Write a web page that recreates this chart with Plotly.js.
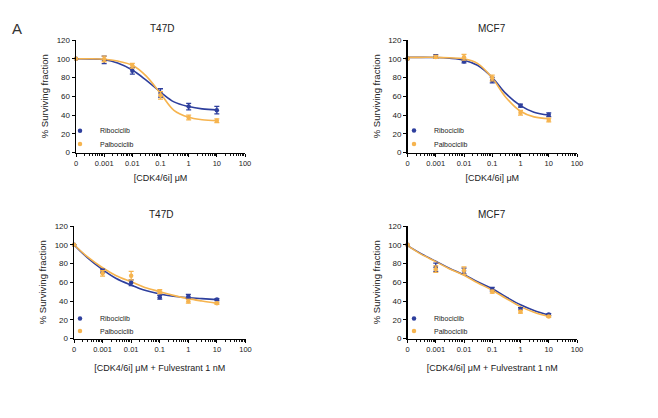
<!DOCTYPE html>
<html>
<head>
<meta charset="utf-8">
<script src="https://cdn.plot.ly/plotly-3.0.1.min.js"></script>
<style>html,body{margin:0;padding:0;background:#fff;}#chart{width:658px;height:418px;}</style>
</head>
<body>
<div id="chart"></div>
<script>
// ---------- data ----------
const conc = [0, 0.001, 0.01, 0.1, 1, 10];           // µM ("0" is drawn at the axis origin)
const fitConc = [0, 0.0003, 0.001, 0.003, 0.01, 0.03, 0.1, 0.3, 1, 3, 10];

const xTickVals = [0.0001, 0.001, 0.01, 0.1, 1, 10, 100];
const xTickText = ['0', '0.001', '0.01', '0.1', '1', '10', '100'];
const yTickVals = [0, 20, 40, 60, 80, 100, 120];

// T47D
const t47dRibo      = [100, 98.8, 87.1, 63.5, 49.0, 45.1];
const t47dRiboErr   = [0, 4, 3.5, 4.5, 3.5, 4];
const t47dPalbo     = [100, 99.8, 92.5, 61.0, 37.4, 33.9];
const t47dPalboErr  = [0, 3, 2.5, 4, 2.5, 2];
const t47dRiboFit   = [100, 99.8, 99, 95.5, 88, 77.5, 64.5, 54, 49, 46.5, 45.5];
const t47dPalboFit  = [100, 100, 99.5, 97.5, 93, 82, 63, 45, 37.5, 35, 34];

// MCF7
const mcf7Ribo      = [100, 102.3, 97.0, 77.2, 50.0, 40.2];
const mcf7RiboErr   = [0, 2, 1.5, 3, 1.5, 2];
const mcf7Palbo     = [100, 102.0, 101.6, 79.5, 42.3, 34.6];
const mcf7PalboErr  = [0, 1.5, 3, 3, 2.5, 2];
const mcf7RiboFit   = [101.5, 101.5, 101.3, 100.5, 98.5, 93, 80, 63, 50, 43, 40];
const mcf7PalboFit  = [101.5, 101.5, 101.5, 101, 100, 95, 79.5, 59, 44, 38, 36];

// T47D + Fulvestrant 1 nM
const t47dFRibo     = [100, 72.0, 59.5, 44.0, 45.0, 41.5];
const t47dFRiboErr  = [0, 2, 3, 2, 2, 1];
const t47dFPalbo    = [100, 69.5, 67.0, 50.0, 39.7, 37.5];
const t47dFPalboErr = [0, 3, 4.5, 2, 2, 1];
const t47dFRiboFit  = [100, 86, 73.5, 64, 57, 51.5, 47.5, 45, 43.5, 42.5, 41.5];
const t47dFPalboFit = [100, 87, 75.5, 67, 60.5, 54.5, 50, 46, 42.5, 40, 37.5];

// MCF7 + Fulvestrant 1 nM
const mcf7FRibo     = [100, 76.0, 72.0, 52.5, 31.5, 25.5];
const mcf7FRiboErr  = [0, 4.5, 3, 2, 1.5, 1];
const mcf7FPalbo    = [100, 74.0, 72.5, 50.0, 28.6, 23.5];
const mcf7FPalboErr = [0, 3.5, 4, 1.5, 1.5, 1];
const mcf7FRiboFit  = [99, 90.5, 82.5, 75, 68, 60.5, 53, 44.5, 36, 30, 25];
const mcf7FPalboFit = [99, 90, 82, 74.5, 67.5, 59.5, 51.5, 43, 34, 28, 23.5];

const seriesNames = ['Ribociclib', 'Palbociclib'];
const panelTitles = ['T47D', 'MCF7', 'T47D', 'MCF7'];
const xTitles = ['[CDK4/6i] μM', '[CDK4/6i] μM', '[CDK4/6i] μM + Fulvestrant 1 nM', '[CDK4/6i] μM + Fulvestrant 1 nM'];

// ---------- styling ----------
const BLUE = '#2e3f9d';
const ORANGE = '#f6b44f';
const FONT = 'Liberation Sans, Arial, sans-serif';
const pos = c => (c === 0 ? 0.0001 : c);   // "0" sits at the axis origin tick

// minor log ticks (2..9 within each decade)
const minorTicks = [];
for (let d = -4; d < 2; d++) for (let m = 2; m <= 9; m++) minorTicks.push(m * Math.pow(10, d));

const panels = [
  {ax: '', ribo: t47dRibo, riboErr: t47dRiboErr, palbo: t47dPalbo, palboErr: t47dPalboErr, riboFit: t47dRiboFit, palboFit: t47dPalboFit},
  {ax: '2', ribo: mcf7Ribo, riboErr: mcf7RiboErr, palbo: mcf7Palbo, palboErr: mcf7PalboErr, riboFit: mcf7RiboFit, palboFit: mcf7PalboFit},
  {ax: '3', ribo: t47dFRibo, riboErr: t47dFRiboErr, palbo: t47dFPalbo, palboErr: t47dFPalboErr, riboFit: t47dFRiboFit, palboFit: t47dFPalboFit},
  {ax: '4', ribo: mcf7FRibo, riboErr: mcf7FRiboErr, palbo: mcf7FPalbo, palboErr: mcf7FPalboErr, riboFit: mcf7FRiboFit, palboFit: mcf7FPalboFit}
];

const traces = [];
panels.forEach((p, i) => {
  const xa = 'x' + p.ax, ya = 'y' + p.ax;
  const fx = fitConc.map(pos);
  traces.push({x: fx, y: p.riboFit, xaxis: xa, yaxis: ya, mode: 'lines', line: {color: BLUE, width: 1.6, shape: 'spline'}, showlegend: false, hoverinfo: 'skip'});
  traces.push({x: fx, y: p.palboFit, xaxis: xa, yaxis: ya, mode: 'lines', line: {color: ORANGE, width: 1.6, shape: 'spline'}, showlegend: false, hoverinfo: 'skip'});
  traces.push({x: conc.map(pos), y: p.ribo, xaxis: xa, yaxis: ya, mode: 'markers', name: seriesNames[0],
    legend: 'legend' + (i === 0 ? '' : (i * 2 + 1)),
    marker: {color: BLUE, size: 4.5}, cliponaxis: false,
    error_y: {type: 'data', array: p.riboErr, color: BLUE, thickness: 1.3, width: 2.5}});
  traces.push({x: conc.map(pos), y: p.palbo, xaxis: xa, yaxis: ya, mode: 'markers', name: seriesNames[1],
    legend: 'legend' + (i * 2 + 2),
    marker: {color: ORANGE, size: 4.5}, cliponaxis: false,
    error_y: {type: 'data', array: p.palboErr, color: ORANGE, thickness: 1.3, width: 2.5}});
});

const W = 658, H = 418;
const xDomains = [[76 / W, 245 / W], [407.5 / W, 577 / W], [74 / W, 245.5 / W], [407.5 / W, 577 / W]];
const yDomains = [[(H - 152.5) / H, (H - 40) / H], [(H - 152.5) / H, (H - 40) / H], [(H - 338.5) / H, (H - 226) / H], [(H - 338.5) / H, (H - 226) / H]];

const layout = {
  width: W, height: H,
  margin: {l: 0, r: 0, t: 0, b: 0},
  paper_bgcolor: '#ffffff', plot_bgcolor: 'rgba(0,0,0,0)',
  font: {family: FONT, color: '#222', size: 8},
  showlegend: true,
  annotations: [{text: 'A', xref: 'paper', yref: 'paper', x: 10 / W, y: (H - 29) / H, xanchor: 'left', yanchor: 'middle', showarrow: false, font: {size: 15, color: '#333', family: FONT}}]
};

const titleX = [0.51, 0.5, 0.51, 0.5];
panels.forEach((p, i) => {
  const xk = 'xaxis' + p.ax, yk = 'yaxis' + p.ax;
  layout[xk] = {
    type: 'log', range: [-4, 2], domain: xDomains[i], anchor: 'y' + p.ax,
    tickmode: 'array', tickvals: xTickVals, ticktext: xTickText,
    ticks: 'outside', ticklen: 3.5, tickwidth: 1, tickcolor: '#000',
    minor: {tickmode: 'array', tickvals: minorTicks, ticks: 'outside', ticklen: 2.5, tickwidth: 1, tickcolor: '#111', showgrid: false},
    showline: true, linecolor: '#000', linewidth: 1.4, showgrid: false, zeroline: false,
    tickfont: {size: 7.5, color: '#222'},
    title: {text: xTitles[i], font: {size: 9, color: '#222'}, standoff: i < 2 ? 7 : 11}
  };
  layout[yk] = {
    range: [0, 120], domain: yDomains[i], anchor: 'x' + p.ax,
    tickmode: 'array', tickvals: yTickVals,
    ticks: 'outside', ticklen: 3, tickwidth: 1, tickcolor: '#000',
    showline: true, linecolor: '#000', linewidth: 1.4, showgrid: false, zeroline: false,
    tickfont: {size: 8, color: '#222'},
    title: {text: '% Surviving fraction', font: {size: 9.5, color: '#222'}, standoff: 6}
  };
  layout.annotations.push({text: panelTitles[i], xref: 'x' + p.ax + ' domain', yref: 'y' + p.ax + ' domain', x: titleX[i], y: 1, yshift: 12,
    xanchor: 'center', yanchor: 'middle', showarrow: false, font: {size: 10, color: '#222', family: FONT}});
});

// one legend per entry, placed inside each panel
const legendPos = [
  [60, 130.7], [60, 144],
  [394, 130.5], [394, 144],
  [60, 318.5], [60, 331],
  [394, 318.5], [394, 331]
];
legendPos.forEach((lp, k) => {
  const key = 'legend' + (k === 0 ? '' : (k + 1));
  layout[key] = {x: lp[0] / W, y: (H - lp[1]) / H, xanchor: 'left', yanchor: 'middle', bgcolor: 'rgba(0,0,0,0)', borderwidth: 0,
    font: {size: 7, color: '#222'}};
});

Plotly.newPlot('chart', traces, layout, {staticPlot: true, displayModeBar: false});
</script>
</body>
</html>
